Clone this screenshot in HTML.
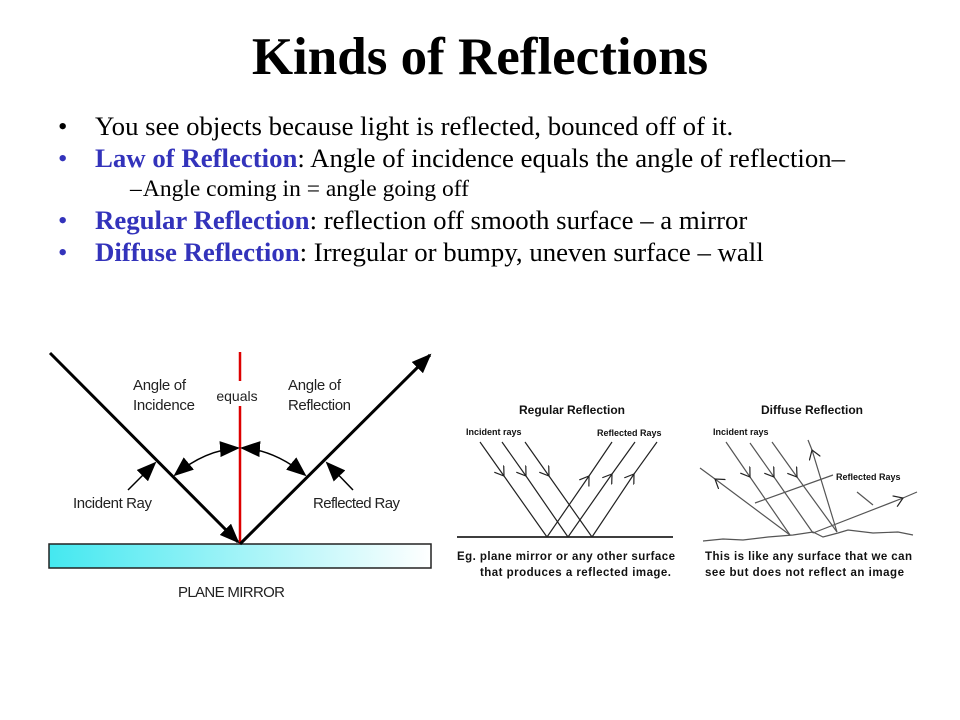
<!DOCTYPE html>
<html><head><style>
body{margin:0;width:960px;height:720px;background:#fff;position:relative;overflow:hidden;font-family:"Liberation Serif",serif;}
.t{position:absolute;white-space:nowrap;}
h1{position:absolute;margin:0;left:0;width:960px;text-align:center;top:27px;font-size:53px;font-weight:bold;}
.b{font-size:26.8px;}
.bl{color:#3333bb;font-weight:bold;}
</style></head><body>
<h1>Kinds of Reflections</h1>
<div class="t b" style="left:58px;top:111px">•</div>
<div class="t b" style="left:95px;top:111px">You see objects because light is reflected, bounced off of it.</div>
<div class="t b" style="left:58px;top:143px;color:#3333bb">•</div>
<div class="t b" style="left:95px;top:143px"><span class="bl">Law of Reflection</span>: Angle of incidence equals the angle of reflection–</div>
<div class="t" style="left:130px;top:176px;font-size:23.5px">–</div>
<div class="t" style="left:137px;top:176px;font-size:23.5px">&nbsp;Angle coming in = angle going off</div>
<div class="t b" style="left:58px;top:205px;color:#3333bb">•</div>
<div class="t b" style="left:95px;top:205px"><span class="bl">Regular Reflection</span>: reflection off smooth surface – a mirror</div>
<div class="t b" style="left:58px;top:237px;color:#3333bb">•</div>
<div class="t b" style="left:95px;top:237px"><span class="bl">Diffuse Reflection</span>: Irregular or bumpy, uneven surface – wall</div>

<svg width="960" height="720" style="position:absolute;left:0;top:0" font-family="Liberation Sans, sans-serif">
<defs>
<linearGradient id="g" x1="0" x2="1"><stop offset="0" stop-color="#44e8f0"/><stop offset="1" stop-color="#ffffff"/></linearGradient>
<marker id="big" markerWidth="20" markerHeight="16" refX="18" refY="8" orient="auto-start-reverse" markerUnits="userSpaceOnUse"><path d="M0,0L20,8L0,16z"/></marker>
<marker id="v" markerWidth="12" markerHeight="12" refX="9" refY="6" orient="auto" markerUnits="userSpaceOnUse"><path d="M0,0L9,6L0,12" fill="none" stroke="#222" stroke-width="1.2"/></marker>
</defs>
<rect x="49" y="544" width="382" height="24" fill="url(#g)" stroke="#222" stroke-width="1.5"/>
<line x1="240" y1="352" x2="240" y2="381" stroke="#d00" stroke-width="2.5"/>
<line x1="240" y1="406" x2="240" y2="544" stroke="#d00" stroke-width="2.5"/>
<line x1="50" y1="353" x2="238" y2="542" stroke="#000" stroke-width="3" marker-end="url(#big)"/>
<line x1="240" y1="544" x2="430" y2="355" stroke="#000" stroke-width="3" marker-end="url(#big)"/>
<path d="M175,475 Q205,450 238,448" fill="none" stroke="#000" stroke-width="1.5" marker-start="url(#big)" marker-end="url(#big)"/>
<path d="M242,448 Q275,450 305,475" fill="none" stroke="#000" stroke-width="1.5" marker-start="url(#big)" marker-end="url(#big)"/>
<line x1="128" y1="490" x2="155" y2="463" stroke="#000" stroke-width="1.5" marker-end="url(#big)"/>
<line x1="353" y1="490" x2="327" y2="463" stroke="#000" stroke-width="1.5" marker-end="url(#big)"/>
<g font-size="15" fill="#222">
<text x="133" y="390" textLength="53">Angle of</text><text x="133" y="410" textLength="62">Incidence</text>
<text x="237" y="401" text-anchor="middle" font-size="14">equals</text>
<text x="288" y="390" textLength="53">Angle of</text><text x="288" y="410" textLength="63">Reflection</text>
<text x="73" y="508" textLength="79">Incident Ray</text>
<text x="313" y="508" textLength="87">Reflected Ray</text>
<text x="178" y="597" textLength="107">PLANE MIRROR</text>
</g>
<g stroke="#222" stroke-width="1.2" fill="none">
<line x1="457" y1="537" x2="673" y2="537" stroke-width="1.8"/>
<g marker-mid="url(#v)">
<polyline points="480,442 504,476 547,537"/>
<polyline points="502,442 526,476 568,537"/>
<polyline points="525,442 549,476 592,537"/>
<polyline points="547,537 589,476 612,442"/>
<polyline points="568,537 612,474 635,442"/>
<polyline points="592,537 634,474 657,442"/>
</g>
<path d="M703,541 l20,-2 l20,1 l25,-3 l25,-2 l20,-3 l10,5 l15,-4 l10,-3 l25,3 l25,-1 l15,3" stroke="#555"/>
<g stroke="#555" marker-mid="url(#v)">
<polyline points="726,442 750,477 790,535"/>
<polyline points="750,443 774,477 813,533"/>
<polyline points="772,442 797,477 837,532"/>
<polyline points="790,535 715,479 700,468"/>
<polyline points="837,532 812,450 808,440"/>
<polyline points="813,533 903,498 917,492"/>
</g>
<path stroke="#555" d="M755,503L833,475M873,505L857,492"/>
</g>
<g font-weight="bold" fill="#111">
<text x="572" y="414" font-size="12" text-anchor="middle">Regular Reflection</text>
<text x="812" y="414" font-size="12" text-anchor="middle">Diffuse Reflection</text>
<g font-size="9"><text x="466" y="435">Incident rays</text><text x="597" y="436">Reflected Rays</text>
<text x="713" y="435">Incident rays</text><text x="836" y="480">Reflected Rays</text></g>
<g font-size="11.5"><text x="457" y="560" textLength="218">Eg. plane mirror or any other surface</text><text x="480" y="576" textLength="191">that produces a reflected image.</text>
<text x="705" y="560" textLength="207">This is like any surface that we can</text><text x="705" y="576" textLength="199">see but does not reflect an image</text></g>
</g>
</svg>
</body></html>
